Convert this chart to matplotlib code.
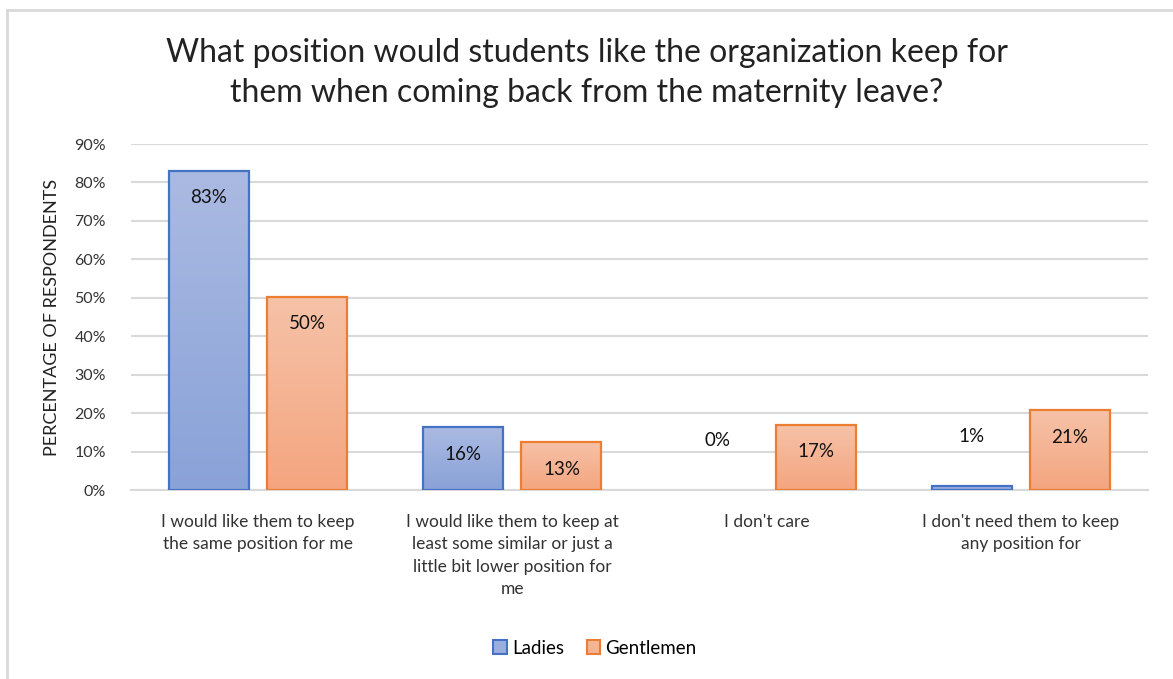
import matplotlib.pyplot as plt
import numpy as np
from matplotlib.colors import LinearSegmentedColormap
from matplotlib.lines import Line2D
from matplotlib.patches import Rectangle

plt.rcParams['font.family'] = ['Lato', 'DejaVu Sans']

# data
categories = [
    "I would like them to keep\nthe same position for me",
    "I would like them to keep at\nleast some similar or just a\nlittle bit lower position for\nme",
    "I don't care",
    "I don't need them to keep\nany position for",
]
ladies = [0.83, 0.164, 0.0, 0.01]
gentlemen = [0.503, 0.125, 0.17, 0.208]
ladies_labels = ['83%', '16%', '0%', '1%']
gentlemen_labels = ['50%', '13%', '17%', '21%']
yticks = [0, 0.1, 0.2, 0.3, 0.4, 0.5, 0.6, 0.7, 0.8, 0.9]

blue_edge = '#4472C4'
orange_edge = '#ED7D31'
blue_cmap = LinearSegmentedColormap.from_list('b', [(137/255, 162/255, 216/255), (171/255, 186/255, 226/255)])
orange_cmap = LinearSegmentedColormap.from_list('o', [(244/255, 165/255, 127/255), (246/255, 194/255, 168/255)])

fig = plt.figure(figsize=(11.73, 6.79), dpi=100)
# chart border (light gray)
fig.add_artist(Line2D([7/1173, 7/1173], [0, 1 - 10/679], color='#D9D9D9', lw=2, transform=fig.transFigure))
fig.add_artist(Line2D([7/1173, 1], [1 - 10/679, 1 - 10/679], color='#D9D9D9', lw=2, transform=fig.transFigure))

ax = fig.add_axes([131/1173, 1 - 490/679, (1148 - 131)/1173, (490 - 144)/679])

x = np.arange(len(categories))
w = 0.315
off = 0.193
grad = np.linspace(1.0, 0.0, 256).reshape(-1, 1)


def gradient_bars(xs, vals, cmap, edge):
    bars = ax.bar(xs, vals, w, facecolor='none', edgecolor=edge, linewidth=1.6, zorder=3)
    for b in bars:
        h = b.get_height()
        if h <= 0:
            b.set_linewidth(0)   # zero bar: nothing visible
            continue
        x0 = b.get_x()
        im = ax.imshow(grad, cmap=cmap, aspect='auto', interpolation='bilinear',
                       extent=(x0, x0 + b.get_width(), 0, h), origin='upper',
                       vmin=0, vmax=1, zorder=2)
        im.set_clip_path(b)
    return bars


gradient_bars(x - off, ladies, blue_cmap, blue_edge)
gradient_bars(x + off, gentlemen, orange_cmap, orange_edge)

for xs, vals, labs in [(x - off, ladies, ladies_labels), (x + off, gentlemen, gentlemen_labels)]:
    for xi, v, lab in zip(xs, vals, labs):
        dy = -19.5 if v > 0.08 else 36
        ax.annotate(lab, (xi, v), xytext=(0, dy), textcoords='offset points',
                    ha='center', va='center', fontsize=13.5, color='#111111', zorder=5)

ax.set_xlim(-0.5, 3.5)
ax.set_ylim(0, 0.9)
ax.set_yticks(yticks)
ax.set_yticklabels([f'{int(round(t * 100))}%' for t in yticks], fontsize=11.5, color='#333333')
ax.set_xticks(x)
ax.set_xticklabels(categories, fontsize=12.5, color='#333333', linespacing=1.5, va='top')
ax.tick_params(axis='both', length=0)
ax.tick_params(axis='y', pad=18)
ax.tick_params(axis='x', pad=17)
ax.grid(axis='y', color='#D9D9D9', linewidth=1.5, zorder=0)
ax.set_axisbelow(True)
for s in ['top', 'right', 'left']:
    ax.spines[s].set_visible(False)
ax.spines['bottom'].set_color('#D9D9D9')
ax.spines['bottom'].set_linewidth(1.5)

ax.set_ylabel('PERCENTAGE OF RESPONDENTS', fontsize=13, color='#222222', labelpad=10)

fig.text(0.5, 1 - 73/679,
         'What position would students like the organization keep for\nthem when coming back from the maternity leave?',
         ha='center', va='center', fontsize=23, color='#222222', linespacing=1.45)

handles = [Rectangle((0, 0), 1, 1, facecolor=(155/255, 175/255, 222/255), edgecolor=blue_edge, lw=1.5),
           Rectangle((0, 0), 1, 1, facecolor=(245/255, 180/255, 148/255), edgecolor=orange_edge, lw=1.5)]
fig.legend(handles, ['Ladies', 'Gentlemen'], loc='center', bbox_to_anchor=(595/1173, 1 - 648/679),
           ncol=2, frameon=False, fontsize=13.5, handlelength=0.7, handleheight=0.7,
           handletextpad=0.3, columnspacing=1.2)

fig.savefig('out.png', dpi=100)
